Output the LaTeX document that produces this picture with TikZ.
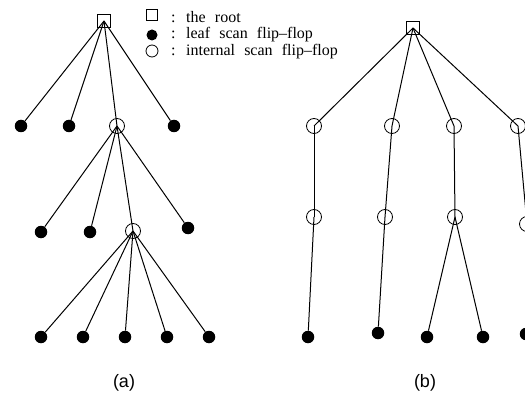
\documentclass[tikz,border=0pt]{standalone}
\usepackage{fontspec}
\setmainfont{Liberation Serif}
\newfontfamily\legfont[WordSpace=2.3]{Liberation Serif}
\newfontfamily\capfont{Liberation Sans}
\usetikzlibrary{positioning}

\begin{document}
\begin{tikzpicture}[
    x=1pt, y=-1pt,
    rootbox/.style={draw, rectangle, minimum size=13pt, inner sep=0pt, line width=0.8pt},
    leaf/.style={circle, fill=black, minimum size=12.5pt, inner sep=0pt},
    inner/.style={draw, circle, minimum size=15pt, inner sep=0pt, line width=0.8pt},
    edge/.style={line width=1pt},
    legtext/.style={anchor=west, inner sep=0pt, font=\legfont\fontsize{16}{18}\selectfont},
    caption/.style={font=\capfont\fontsize{18}{21}\selectfont}
]
    \useasboundingbox (0,0) rectangle (525,417);
    \clip (0,0) rectangle (525,417);

    % --- legend ---
    \node[rootbox, minimum size=11pt] (key_root) at (152,15) {};
    \node[leaf, minimum size=11pt] (key_leaf) at (152,35) {};
    \node[inner, minimum size=12pt] (key_inner) at (152,51) {};
    \node[legtext] (txt_root) at (171,17) {: the root};
    \node[legtext] (txt_leaf) at (171,35) {: leaf scan flip\textendash flop};
    \node[legtext] (txt_inner) at (171,52) {: internal scan flip\textendash flop};

    % --- tree (a) ---
    \node[rootbox] (ra) at (104,21) {};
    \node[leaf] (a_l1) at (21,126) {};
    \node[leaf] (a_l2) at (69,126) {};
    \node[inner] (a_i1) at (117,126) {};
    \node[leaf] (a_l3) at (174,126) {};
    \node[leaf] (a_l4) at (41,232) {};
    \node[leaf] (a_l5) at (90,232) {};
    \node[inner] (a_i2) at (133,231) {};
    \node[leaf] (a_l6) at (188,228) {};
    \node[leaf] (a_l7) at (41,337) {};
    \node[leaf] (a_l8) at (83,337) {};
    \node[leaf] (a_l9) at (125,337) {};
    \node[leaf] (a_l10) at (167,337) {};
    \node[leaf] (a_l11) at (209,337) {};

    \draw[edge] (ra.center) -- (a_l1);
    \draw[edge] (ra.center) -- (a_l2);
    \draw[edge] (ra.center) -- (a_i1.center);
    \draw[edge] (ra.center) -- (a_l3);
    \draw[edge] (a_i1.center) -- (a_l4);
    \draw[edge] (a_i1.center) -- (a_l5);
    \draw[edge] (a_i1.center) -- (a_i2.center);
    \draw[edge] (a_i1.center) -- (a_l6);
    \draw[edge] (a_i2.center) -- (a_l7);
    \draw[edge] (a_i2.center) -- (a_l8);
    \draw[edge] (a_i2.center) -- (a_l9);
    \draw[edge] (a_i2.center) -- (a_l10);
    \draw[edge] (a_i2.center) -- (a_l11);

    % --- tree (b) ---
    \node[rootbox] (rb) at (413,28) {};
    \node[inner] (b_i1) at (314,126) {};
    \node[inner] (b_i2) at (392,126) {};
    \node[inner] (b_i3) at (454,126) {};
    \node[inner] (b_i4) at (518,126) {};
    \node[inner] (b_i5) at (314,217) {};
    \node[inner] (b_i6) at (385,217) {};
    \node[inner] (b_i7) at (455,217) {};
    \node[inner] (b_i8) at (527,224) {};
    \node[leaf] (b_l1) at (308,337) {};
    \node[leaf] (b_l2) at (378,333) {};
    \node[leaf] (b_l3) at (427,337) {};
    \node[leaf] (b_l4) at (483,337) {};
    \node[leaf] (b_l5) at (526,334) {};

    \draw[edge] (rb.center) -- (b_i1.center);
    \draw[edge] (rb.center) -- (b_i2.center);
    \draw[edge] (rb.center) -- (b_i3.center);
    \draw[edge] (rb.center) -- (b_i4.center);
    \draw[edge] (b_i1.center) -- (b_i5.center);
    \draw[edge] (b_i2.center) -- (b_i6.center);
    \draw[edge] (b_i3.center) -- (b_i7.center);
    \draw[edge] (b_i4.center) -- (b_i8.center);
    \draw[edge] (b_i5.center) -- (b_l1);
    \draw[edge] (b_i6.center) -- (b_l2);
    \draw[edge] (b_i7.center) -- (b_l3);
    \draw[edge] (b_i7.center) -- (b_l4);
    \draw[edge] (b_i8.center) -- (b_l5);

    % --- captions ---
    \node[caption] (cap_a) at (124,383) {(a)};
    \node[caption] (cap_b) at (425,383) {(b)};
\end{tikzpicture}
\end{document}
